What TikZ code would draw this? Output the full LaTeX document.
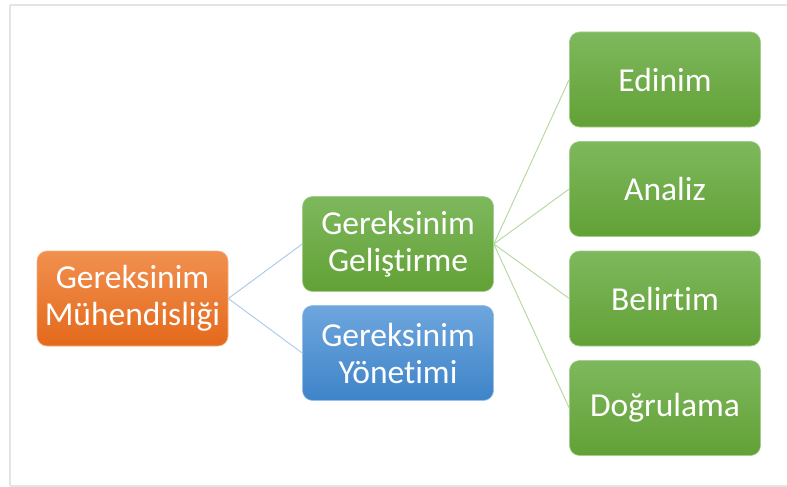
\documentclass[tikz,border=0pt]{standalone}
\usepackage{fontspec}
\setmainfont{Carlito}[Ligatures={NoCommon,NoRare,NoContextual},Contextuals=NoAlternate]
\begin{document}
\begin{tikzpicture}[x=1pt,y=-1pt,
  box/.style={rectangle, rounded corners=10pt, minimum width=191pt, minimum height=95pt,
    inner sep=0pt, align=center, text=white, line width=0.6pt,
    font=\fontsize{33.5}{37}\selectfont},
  orangebox/.style={box, top color=orangeTop, bottom color=orangeBot, draw=orangeTop!70!white},
  greenbox/.style={box, top color=greenTop, bottom color=greenBot, draw=greenTop!70!white},
  bluebox/.style={box, top color=blueTop, bottom color=blueBot, draw=blueTop!70!white},
  blueline/.style={draw=linkBlue, line width=0.9pt},
  greenline/.style={draw=linkGreen, line width=0.9pt}]
\definecolor{orangeTop}{HTML}{F1904F}
\definecolor{orangeBot}{HTML}{E4691B}
\definecolor{greenTop}{HTML}{7EB85D}
\definecolor{greenBot}{HTML}{62A136}
\definecolor{blueTop}{HTML}{6EA6DD}
\definecolor{blueBot}{HTML}{3E84C9}
\definecolor{linkBlue}{HTML}{A8C8EA}
\definecolor{linkGreen}{HTML}{B3D89E}
\definecolor{frameGray}{HTML}{E4E4E4}

\useasboundingbox (0,0) rectangle (787,487);
\fill[white] (0,0) rectangle (787,487);
% outer frame
\draw[frameGray, line width=2pt] (9.5,5) -- (790,5);
\draw[frameGray, line width=2pt] (9.5,5) -- (9.5,486);
\draw[frameGray, line width=2pt] (9.5,486) -- (790,486);

% nodes
\node[orangebox] (root) at (132.5,298.5) {Gereksinim\\Mühendisliği};
\node[greenbox] (dev) at (398,244) {Gereksinim\\Geliştirme};
\node[bluebox] (mgmt) at (398,353) {Gereksinim\\Yönetimi};
\node[greenbox] (e1) at (665,79.5) {Edinim};
\node[greenbox] (e2) at (665,189) {Analiz};
\node[greenbox] (e3) at (665,298.5) {Belirtim};
\node[greenbox] (e4) at (665,408) {Doğrulama};

% connectors
\draw[blueline] (root.east) -- (dev.west);
\draw[blueline] (root.east) -- (mgmt.west);
\foreach \c in {e1,e2,e3,e4}
  \draw[greenline] (dev.east) -- (\c.west);
\end{tikzpicture}
\end{document}
